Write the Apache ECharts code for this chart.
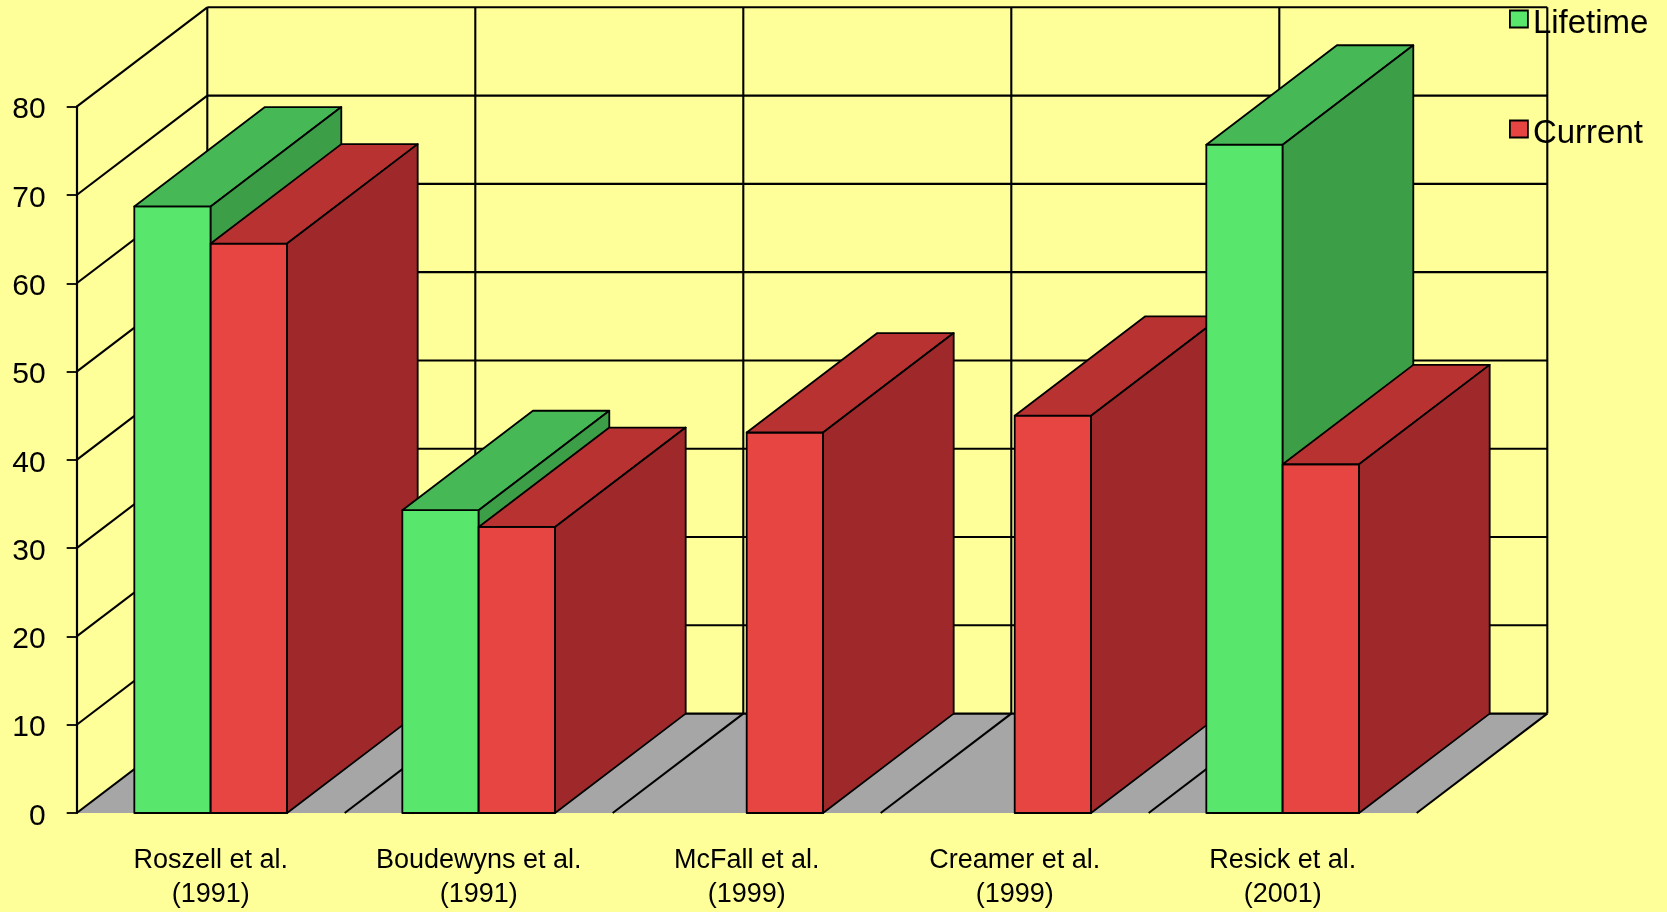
<!DOCTYPE html>
<html>
<head>
<meta charset="utf-8">
<title>Lifetime and Current rates</title>
<script src="https://cdn.jsdelivr.net/npm/echarts@6/dist/echarts.min.js"></script>
<style>
  html, body { margin: 0; padding: 0; background: #FFFF99; }
  #chart { width: 1667px; height: 912px; }
</style>
</head>
<body>
<div id="chart"></div>
<script>
// Study labels along the floor
const categories = [
  'Roszell et al.\n(1991)',
  'Boudewyns et al.\n(1991)',
  'McFall et al.\n(1999)',
  'Creamer et al.\n(1999)',
  'Resick et al.\n(2001)'
];
// Percentages per study (null = not reported)
const lifetime = [68.7, 34.3, null, null, 75.7];
const current  = [64.5, 32.4, 43.1, 45.0, 39.5];
// Value axis range
const valueMin = 0;
const valueMax = 80;
const valueStep = 10;

// Depth of the box, in pixels (shift from front plane to back wall)
const DEPTH_X = 130.6;
const DEPTH_Y = -99.4;
const BAR_FRAC = 0.285;   // width of one bar as a fraction of the category band

const COLORS = {
  Lifetime: { front: '#59E66D', top: '#46B956', side: '#3C9F48' },
  Current:  { front: '#E64541', top: '#B83232', side: '#9F292A' }
};

const tickValues = [];
for (let v = valueMin; v <= valueMax; v += valueStep) tickValues.push(v);

const chart = echarts.init(document.getElementById('chart'), null, { renderer: 'canvas' });

function renderWalls(params, api) {
  const band = api.size([1, 0])[0];
  const c0 = api.coord([0, valueMin]);
  const x0 = c0[0] - band / 2;
  const y0 = c0[1];
  const n = categories.length;
  const x1 = x0 + n * band;
  const yTop = api.coord([0, valueMax])[1];
  const line = { stroke: '#000', lineWidth: 2.1 };
  const children = [];
  // grey floor
  children.push({
    type: 'polygon',
    shape: { points: [[x0, y0], [x1, y0], [x1 + DEPTH_X, y0 + DEPTH_Y], [x0 + DEPTH_X, y0 + DEPTH_Y]] },
    style: { fill: '#A6A6A6', stroke: null }
  });
  // floor diagonals at category boundaries
  for (let k = 1; k <= n; k++) {
    const x = x0 + k * band;
    children.push({ type: 'line', shape: { x1: x, y1: y0, x2: x + DEPTH_X, y2: y0 + DEPTH_Y }, style: line });
  }
  // side wall and back wall gridlines
  tickValues.forEach(v => {
    const y = api.coord([0, v])[1];
    children.push({ type: 'line', shape: { x1: x0, y1: y, x2: x0 + DEPTH_X, y2: y + DEPTH_Y }, style: line });
    children.push({ type: 'line', shape: { x1: x0 + DEPTH_X, y1: y + DEPTH_Y, x2: x1 + DEPTH_X, y2: y + DEPTH_Y }, style: line });
  });
  // back wall verticals
  for (let k = 0; k <= n; k++) {
    const x = x0 + k * band + DEPTH_X;
    children.push({ type: 'line', shape: { x1: x, y1: y0 + DEPTH_Y, x2: x, y2: yTop + DEPTH_Y }, style: line });
  }
  return { type: 'group', children };
}

function makeBarRenderer(name, slot) {
  const col = COLORS[name];
  return function (params, api) {
    const idx = api.value(0);
    const val = api.value(1);
    if (val == null || isNaN(val)) return null;
    const band = api.size([1, 0])[0];
    const cx = api.coord([idx, valueMin])[0];
    const y0 = api.coord([idx, valueMin])[1];
    const yt = api.coord([idx, val])[1];
    const bw = band * BAR_FRAC;
    const xl = slot === 0 ? cx - bw : cx;
    const xr = xl + bw;
    const edge = { stroke: '#000', lineWidth: 1.8, lineJoin: 'round' };
    const z2 = idx * 10 + slot;
    return {
      type: 'group',
      children: [
        { type: 'polygon', z2,
          shape: { points: [[xl, yt], [xr, yt], [xr, y0], [xl, y0]] },
          style: Object.assign({ fill: col.front }, edge) },
        { type: 'polygon', z2,
          shape: { points: [[xl, yt], [xr, yt], [xr + DEPTH_X, yt + DEPTH_Y], [xl + DEPTH_X, yt + DEPTH_Y]] },
          style: Object.assign({ fill: col.top }, edge) },
        { type: 'polygon', z2,
          shape: { points: [[xr, yt], [xr + DEPTH_X, yt + DEPTH_Y], [xr + DEPTH_X, y0 + DEPTH_Y], [xr, y0]] },
          style: Object.assign({ fill: col.side }, edge) }
      ]
    };
  };
}

const FONT = '"Liberation Sans", Arial, sans-serif';

chart.setOption({
  backgroundColor: '#FFFF99',
  animation: false,
  grid: { left: 76.7, top: 106.7, width: 1340, height: 711, containLabel: false },
  legend: {
    orient: 'vertical',
    left: 1509,
    top: 7.5,
    padding: 0,
    itemGap: 77,
    itemWidth: 18,
    itemHeight: 17,
    icon: 'rect',
    selectedMode: false,
    formatter: '{t|{name}}',
    textStyle: {
      fontFamily: FONT, fontSize: 33, color: '#000',
      rich: { t: { fontFamily: FONT, fontSize: 33, color: '#000', padding: [10, 0, 0, 0] } }
    },
    data: [
      { name: 'Lifetime', itemStyle: { color: COLORS.Lifetime.front, borderColor: '#000', borderWidth: 1.8 } },
      { name: 'Current', itemStyle: { color: COLORS.Current.front, borderColor: '#000', borderWidth: 1.8 } }
    ]
  },
  xAxis: {
    type: 'category',
    data: categories,
    boundaryGap: true,
    axisLine: { show: false },
    axisTick: { show: false },
    splitLine: { show: false },
    axisLabel: {
      interval: 0,
      margin: 31,
      fontFamily: FONT,
      fontSize: 27,
      lineHeight: 34,
      color: '#000'
    }
  },
  yAxis: {
    type: 'value',
    min: valueMin,
    max: valueMax,
    interval: valueStep,
    axisLine: { show: true, lineStyle: { color: '#000', width: 2.2 } },
    axisTick: { show: true, inside: false, length: 10, lineStyle: { color: '#000', width: 1.8 } },
    splitLine: { show: false },
    axisLabel: {
      margin: 31,
      fontFamily: FONT, fontSize: 30, color: '#000',
      formatter: '{v|{value}}',
      rich: { v: { fontFamily: FONT, fontSize: 30, color: '#000', padding: [7, 0, 0, 0] } }
    }
  },
  series: [
    {
      type: 'custom',
      name: 'walls',
      z: 1,
      silent: true,
      renderItem: renderWalls,
      data: [[0, 0]],
      encode: { x: 0, y: 1 }
    },
    {
      type: 'custom',
      name: 'Lifetime',
      z: 2,
      itemStyle: { color: COLORS.Lifetime.front },
      renderItem: makeBarRenderer('Lifetime', 0),
      data: lifetime.map((v, i) => [i, v == null ? NaN : v]),
      encode: { x: 0, y: 1 }
    },
    {
      type: 'custom',
      name: 'Current',
      z: 2,
      itemStyle: { color: COLORS.Current.front },
      renderItem: makeBarRenderer('Current', 1),
      data: current.map((v, i) => [i, v]),
      encode: { x: 0, y: 1 }
    }
  ]
});
</script>
</body>
</html>
